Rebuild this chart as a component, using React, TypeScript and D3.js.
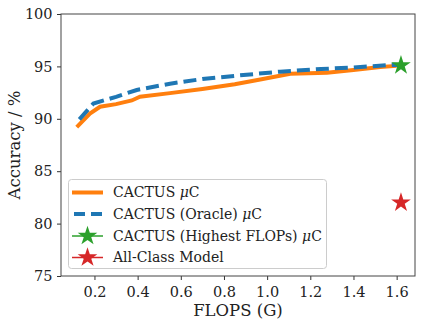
import * as d3 from 'd3';
import { useEffect, useRef } from 'react';

// FLOPS (G) vs accuracy
const cactusFlops = [0.118, 0.179, 0.226, 0.30, 0.373, 0.411, 0.55, 0.70, 0.85, 0.968, 1.107, 1.277, 1.40, 1.524, 1.60];
const cactusAcc = [89.2, 90.5, 91.15, 91.4, 91.75, 92.1, 92.45, 92.85, 93.3, 93.75, 94.3, 94.4, 94.65, 94.95, 95.05];

const oracleFlops = [0.13, 0.195, 0.30, 0.396, 0.55, 0.70, 0.85, 1.06, 1.25, 1.40, 1.585, 1.62];
const oracleAcc = [89.95, 91.45, 92.1, 92.75, 93.35, 93.8, 94.1, 94.5, 94.75, 94.9, 95.15, 95.1];

const highestFlops = [1.62];
const highestAcc = [95.1];

const allClassFlops = [1.62];
const allClassAcc = [82.0];

const xTicks = [0.2, 0.4, 0.6, 0.8, 1.0, 1.2, 1.4, 1.6];
const yTicks = [75, 80, 85, 90, 95, 100];

const legendLabels = ['CACTUS ', 'CACTUS (Oracle) ', 'CACTUS (Highest FLOPs) ', 'All-Class Model'];

export default function App() {
    const svgCur = useRef<SVGSVGElement>(null);

    useEffect(() => {
        if (!svgCur.current) return;
        const width = 423;
        const height = 325;
        const margin = { top: 14, right: 8, bottom: 49, left: 61 };
        const font = '"DejaVu Serif", serif';

        const svg = d3.select(svgCur.current);
        svg.selectAll('*').remove();
        svg.attr('width', width).attr('height', height);

        const x = d3.scaleLinear().domain([0.045, 1.685]).range([margin.left, width - margin.right]);
        const y = d3.scaleLinear().domain([75, 100]).range([height - margin.bottom, margin.top]);

        const line = d3.line<[number, number]>()
            .x(d => x(d[0]))
            .y(d => y(d[1]));

        const orange = '#ff7f0e';
        const blue = '#1f77b4';
        const green = '#2ca02c';
        const red = '#d62728';

        svg.append('path')
            .datum(cactusFlops.map((f, i) => [f, cactusAcc[i]] as [number, number]))
            .attr('fill', 'none')
            .attr('stroke', orange)
            .attr('stroke-width', 4)
            .attr('d', line);

        svg.append('path')
            .datum(oracleFlops.map((f, i) => [f, oracleAcc[i]] as [number, number]))
            .attr('fill', 'none')
            .attr('stroke', blue)
            .attr('stroke-width', 4)
            .attr('stroke-dasharray', '13,6')
            .attr('d', line);

        const star = d3.symbol().type(d3.symbolStar).size(120);

        svg.selectAll('.green')
            .data(highestFlops)
            .join('path')
            .attr('transform', (d, i) => `translate(${x(d)},${y(highestAcc[i])})`)
            .attr('d', star)
            .attr('fill', green);

        svg.selectAll('.red')
            .data(allClassFlops)
            .join('path')
            .attr('transform', (d, i) => `translate(${x(d)},${y(allClassAcc[i])})`)
            .attr('d', star)
            .attr('fill', red);

        // axes
        const xAxis = d3.axisBottom(x).tickValues(xTicks).tickFormat(d3.format('.1f')).tickSizeOuter(0).tickSize(4);
        const yAxis = d3.axisLeft(y).tickValues(yTicks).tickFormat(d3.format('d')).tickSizeOuter(0).tickSize(4);

        svg.append('g')
            .attr('transform', `translate(0,${height - margin.bottom})`)
            .call(xAxis)
            .call(g => g.select('.domain').remove())
            .call(g => g.selectAll('line').attr('stroke', '#333'))
            .call(g => g.selectAll('text').attr('fill', '#222').attr('font-family', font).attr('font-size', 14.5).attr('dy', '0.95em'));

        svg.append('g')
            .attr('transform', `translate(${margin.left},0)`)
            .call(yAxis)
            .call(g => g.select('.domain').remove())
            .call(g => g.selectAll('line').attr('stroke', '#333'))
            .call(g => g.selectAll('text').attr('fill', '#222').attr('font-family', font).attr('font-size', 14.5).attr('dx', '-0.1em'));

        svg.append('rect')
            .attr('x', margin.left)
            .attr('y', margin.top)
            .attr('width', width - margin.left - margin.right)
            .attr('height', height - margin.top - margin.bottom)
            .attr('fill', 'none')
            .attr('stroke', '#444')
            .attr('stroke-width', 1);

        svg.append('text')
            .attr('x', (margin.left + width - margin.right) / 2)
            .attr('y', 316)
            .attr('text-anchor', 'middle')
            .attr('font-family', font)
            .attr('font-size', 16.5)
            .attr('fill', '#222')
            .text('FLOPS (G)');

        svg.append('text')
            .attr('transform', `translate(20,${(margin.top + height - margin.bottom) / 2}) rotate(-90)`)
            .attr('text-anchor', 'middle')
            .attr('font-family', font)
            .attr('font-size', 16.5)
            .attr('fill', '#222')
            .text('Accuracy / %');

        // legend
        const lg = svg.append('g');
        lg.append('rect')
            .attr('x', 68.5).attr('y', 179.5)
            .attr('width', 258).attr('height', 89)
            .attr('rx', 3)
            .attr('fill', 'white').attr('fill-opacity', 0.8)
            .attr('stroke', '#ccc');

        const rows = [192.5, 214, 236, 257.5];
        const colors = [orange, blue, green, red];
        rows.forEach((ry, i) => {
            const ln = lg.append('line')
                .attr('x1', 72).attr('x2', 103)
                .attr('y1', ry).attr('y2', ry)
                .attr('stroke', colors[i])
                .attr('stroke-width', i < 2 ? 4 : 1.5);
            if (i === 1) ln.attr('stroke-dasharray', '11,6').attr('x1', 74);
            if (i >= 2) {
                lg.append('path')
                    .attr('transform', `translate(87.5,${ry})`)
                    .attr('d', star)
                    .attr('fill', colors[i]);
            }
            const t = lg.append('text')
                .attr('x', 113)
                .attr('y', ry)
                .attr('dy', '0.35em')
                .attr('font-family', font)
                .attr('font-size', 14)
                .attr('fill', '#222')
                .text(legendLabels[i]);
            if (i < 3) {
                t.append('tspan').attr('font-style', 'italic').text('μ');
                t.append('tspan').text('C');
            }
        });
    }, []);

    return (
        <div style={{ position: 'absolute', left: 0, top: 0 }}>
            <svg ref={svgCur}></svg>
        </div>
    );
}
